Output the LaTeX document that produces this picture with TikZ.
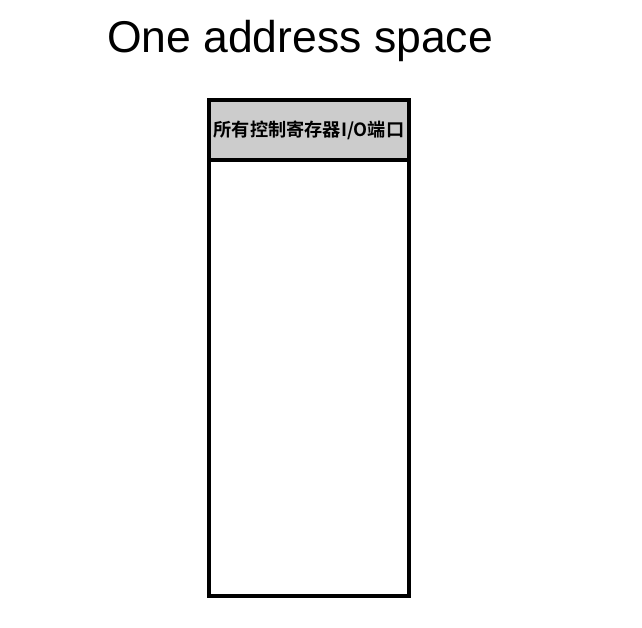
\documentclass[tikz,border=0pt]{standalone}
\usepackage{fontspec}
\setmainfont{Liberation Sans}
\newfontfamily\cjk[BoldFont={Noto Sans CJK SC Bold}]{Noto Sans CJK SC}
\begin{document}
\begin{tikzpicture}[x=1pt,y=-1pt,
  box/.style={draw=black,line width=4pt},
  hdr/.style={box,fill=black!20},
  title/.style={font=\fontsize{44.5}{48}\selectfont,inner sep=0pt}]
\useasboundingbox (0,0) rectangle (642,627);
\node[title] (t) at (300,41) {One address space};
\draw[box,fill=white] (209,100) rectangle (409,596);
\draw[hdr] (209,100) rectangle (409,160);
\node[font=\cjk\bfseries\fontsize{18.2}{20}\selectfont,inner sep=0pt] (h) at (309,130) {所有控制寄存器I/O端口};
\end{tikzpicture}
\end{document}
